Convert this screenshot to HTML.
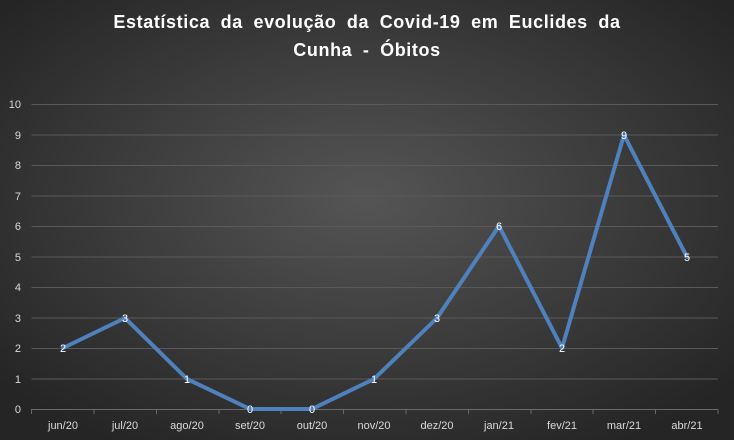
<!DOCTYPE html>
<html><head><style>
body{margin:0;width:734px;height:440px;overflow:hidden}
</style></head><body>
<svg width="734" height="440" xmlns="http://www.w3.org/2000/svg" font-family="Liberation Sans, sans-serif">
<defs><radialGradient id="g" cx="50%" cy="45%" r="65%"><stop offset="0" stop-color="#555"/><stop offset="1" stop-color="#252525"/></radialGradient></defs>
<rect width="734" height="440" fill="url(#g)"/>
<g fill="#fff" font-weight="bold" font-size="18" text-anchor="middle" letter-spacing="0.6" word-spacing="5">
<text x="367" y="28">Estatística da evolução da Covid-19 em Euclides da</text>
<text x="367" y="56">Cunha - Óbitos</text>
</g>
<g stroke="#5a5a5a" stroke-width="1">
<line x1="31.5" x2="718" y1="104.5" y2="104.5"/><line x1="31.5" x2="718" y1="135" y2="135"/><line x1="31.5" x2="718" y1="165.5" y2="165.5"/><line x1="31.5" x2="718" y1="196" y2="196"/><line x1="31.5" x2="718" y1="226.5" y2="226.5"/><line x1="31.5" x2="718" y1="257" y2="257"/><line x1="31.5" x2="718" y1="287.5" y2="287.5"/><line x1="31.5" x2="718" y1="318" y2="318"/><line x1="31.5" x2="718" y1="348.5" y2="348.5"/><line x1="31.5" x2="718" y1="379" y2="379"/>
</g>
<g stroke="#6a6a6a"><line x1="31.5" x2="718" y1="409.5" y2="409.5"/>
<path d="M31.5 409v5M94 409v5M156.5 409v5M219 409v5M281 409v5M343.5 409v5M406 409v5M468.5 409v5M531 409v5M593 409v5M655.5 409v5M718 409v5"/></g>
<g fill="#d9d9d9" font-size="11" text-anchor="end">
<text x="21" y="108">10</text><text x="21" y="139">9</text><text x="21" y="169">8</text><text x="21" y="200">7</text><text x="21" y="230">6</text><text x="21" y="261">5</text><text x="21" y="291">4</text><text x="21" y="322">3</text><text x="21" y="352">2</text><text x="21" y="383">1</text><text x="21" y="413">0</text>
</g>
<g fill="#d9d9d9" font-size="11" text-anchor="middle">
<text x="63" y="429">jun/20</text><text x="125" y="429">jul/20</text><text x="187" y="429">ago/20</text><text x="250" y="429">set/20</text><text x="312" y="429">out/20</text><text x="374" y="429">nov/20</text><text x="437" y="429">dez/20</text><text x="499" y="429">jan/21</text><text x="562" y="429">fev/21</text><text x="624" y="429">mar/21</text><text x="687" y="429">abr/21</text>
</g>
<polyline fill="none" stroke="#4f81bd" stroke-width="4" stroke-linejoin="round" stroke-linecap="round" points="63,348 125,318 187,379 250,409 312,409 374,379 437,318 499,226 562,348 624,135 687,257"/>
<g fill="#fff" font-size="11" text-anchor="middle">
<text x="63" y="352">2</text><text x="125" y="322">3</text><text x="187" y="383">1</text><text x="250" y="413">0</text><text x="312" y="413">0</text><text x="374" y="383">1</text><text x="437" y="322">3</text><text x="499" y="230">6</text><text x="562" y="352">2</text><text x="624" y="139">9</text><text x="687" y="261">5</text>
</g>
</svg>
</body></html>
